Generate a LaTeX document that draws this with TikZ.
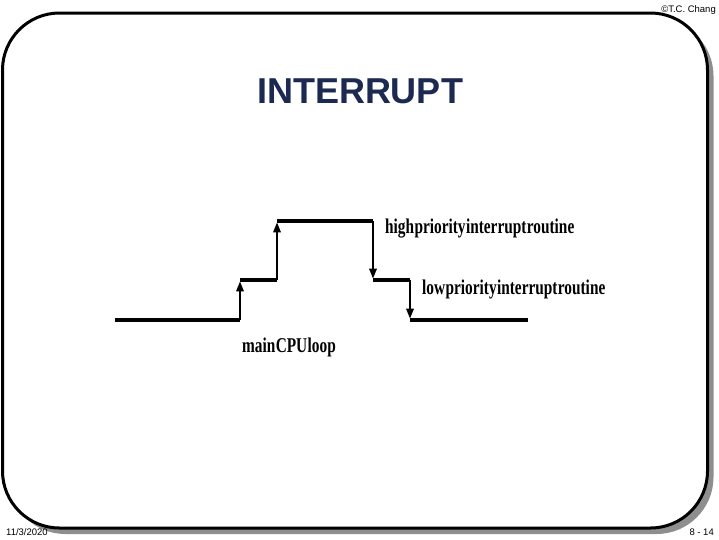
\documentclass[tikz,border=0pt]{standalone}
\usepackage{fontspec}
\setmainfont{Liberation Sans}
\newfontfamily\condserif[FakeStretch=0.73,WordSpace=0.1]{Liberation Serif Bold}
\usetikzlibrary{arrows.meta}
\definecolor{titleblue}{HTML}{1C2A52}
\definecolor{shadowgray}{HTML}{8E8E8E}

\begin{document}
\begin{tikzpicture}[x=1pt,y=-1pt,
  frame/.style={draw=black, line width=3pt, fill=white, rounded corners=57pt},
  shadowbox/.style={fill=shadowgray, rounded corners=57pt},
  level/.style={line width=3.4pt},
  jump/.style={line width=1.8pt, -{Triangle[length=10pt,width=7.5pt]}, shorten >=1.4pt},
  lbl/.style={anchor=base west, inner sep=0pt, font=\condserif\fontsize{21}{21}\selectfont},
  foot/.style={inner sep=0pt, font=\fontsize{9.5}{9.5}\selectfont}
]
\useasboundingbox (0,0) rectangle (719,539);
% slide frame with shadow
\fill[shadowbox] (8.5,19) rectangle (713.5,534);
\draw[frame] (2.5,13) rectangle (707.5,528);

\node[anchor=base, inner sep=0pt, text=titleblue, font=\bfseries\fontsize{36}{36}\selectfont] (title) at (360,103) {INTERRUPT};

% levels
\coordinate (m0) at (115,320);
\coordinate (m1) at (240,320);
\coordinate (l1) at (240,280);
\coordinate (l2) at (277,280);
\coordinate (h1) at (277,221);
\coordinate (h2) at (373,221);
\coordinate (l3) at (373,280);
\coordinate (l4) at (410,280);
\coordinate (m2) at (410,320);
\coordinate (m3) at (528,320);

\draw[level] (m0) -- (m1);
\draw[level] (l1) -- (l2);
\draw[level] (h1) -- (h2);
\draw[level] (l3) -- (l4);
\draw[level] (m2) -- (m3);

\draw[jump] (m1) -- (l1);
\draw[jump] (l2) -- (h1);
\draw[jump] (h2) -- (l3);
\draw[jump] (l4) -- (m2);

\node[lbl] (high) at (385,233) {high priority interrupt routine};
\node[lbl] (low) at (422,294) {low priority interrupt routine};
\node[lbl] (main) at (242,352) {main CPU loop};

% footer
\node[foot, anchor=base east] (copy) at (716,12) {©T.C. Chang};
\node[foot, anchor=base west] (date) at (6,535) {11/3/2020};
\node[foot, anchor=base east] (page) at (714,535) {8 - 14};
\end{tikzpicture}
\end{document}
